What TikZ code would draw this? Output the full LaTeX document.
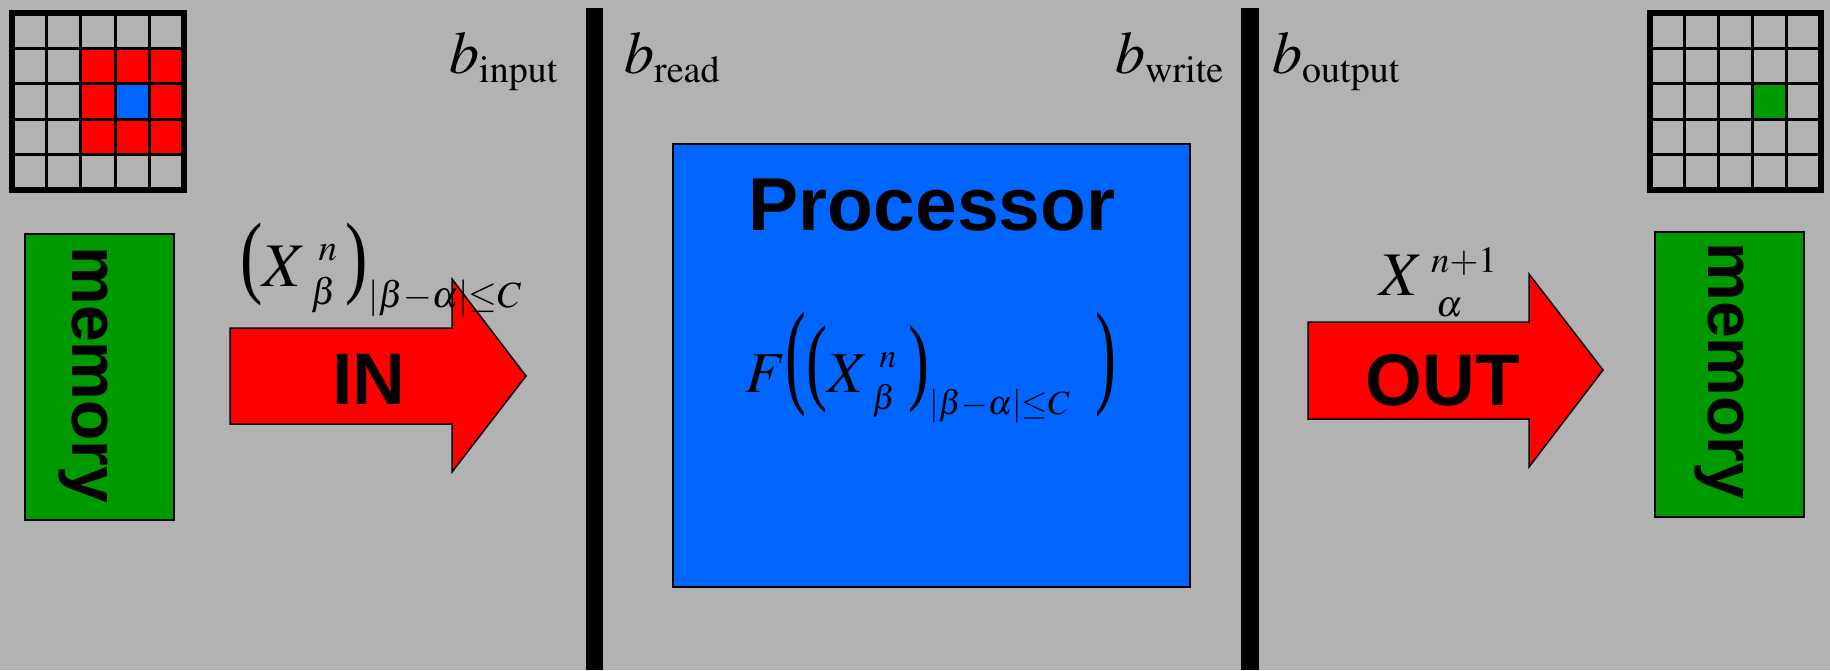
\documentclass[tikz,border=0pt]{standalone}
\usepackage{mathptmx}
\usepackage{fontspec}
\setmainfont{Liberation Serif}
\setsansfont{Liberation Sans}
\DeclareMathSizes{58}{58}{34}{26}
\DeclareMathSizes{60}{60}{38}{28}
\DeclareMathSizes{62}{62}{37}{28}
\newcommand{\upsc}[2]{\raisebox{#1}{$\scriptstyle #2$}}
\newcommand{\plft}[1]{\mathopen{\resizebox*{0.36em}{#1}{(}}}
\newcommand{\prgt}[1]{\mathclose{\resizebox*{0.36em}{#1}{)}}}
\definecolor{bggray}{RGB}{178,178,178}
\definecolor{procblue}{RGB}{0,102,255}
\definecolor{memgreen}{RGB}{0,153,0}
\tikzset{
  memorybox/.style={draw=black, line width=1.5pt, fill=memgreen},
  bigarrow/.style={draw=black, line width=1.5pt, fill=red},
  sftext/.style={inner sep=0pt, font=\sffamily\bfseries\fontsize{#1}{#1}\selectfont},
  mathtext/.style={inner sep=0pt, font=\fontsize{#1}{#1}\selectfont}
}
\begin{document}
\begin{tikzpicture}[x=1pt, y=-1pt]
  \useasboundingbox (0,0) rectangle (1830,670);
  \fill[bggray] (0,0) rectangle (1830,670);

  \begin{scope}[shift={(12,13)}, x=34.4pt, y=-35.4pt]
    \fill[red] (2,1) rectangle (5,4);
    \fill[procblue] (3,2) rectangle (4,3);
    \foreach \k in {1,...,4} {
      \draw[line width=3pt] (\k,0) -- (\k,5);
      \draw[line width=3pt] (0,\k) -- (5,\k);
    }
    \draw[line width=6pt] (0,0) rectangle (5,5);
  \end{scope}
  \begin{scope}[shift={(1650,13)}, x=34.2pt, y=-35.4pt]
    \fill[memgreen] (3,2) rectangle (4,3);
    \foreach \k in {1,...,4} {
      \draw[line width=3pt] (\k,0) -- (\k,5);
      \draw[line width=3pt] (0,\k) -- (5,\k);
    }
    \draw[line width=6pt] (0,0) rectangle (5,5);
  \end{scope}

  \fill[black] (586,8) rectangle (603,670);
  \fill[black] (1241,8) rectangle (1259,670);

  \draw[memorybox] (25,234) rectangle (174,520);
  \node[sftext=66, rotate=-90, anchor=base] (memin) at (72,375) {memory};
  \draw[memorybox] (1655,232) rectangle (1804,517);
  \node[sftext=66, rotate=-90, anchor=base] (memout) at (1708,371) {memory};

  \draw[line width=1.5pt, fill=procblue] (673,144) rectangle (1190,587);
  \node[sftext=75, anchor=base] (proc) at (932,230) {Processor};
  \node[mathtext=58, anchor=base] (func) at (931,392)
    {$F\plft{105pt}\plft{87pt}X^{\mkern6mu\upsc{3pt}{n}\mkern6mu}_{\mkern6mu\upsc{-3pt}{\beta}\mkern6mu}\prgt{87pt}_{|\beta-\alpha|\le C}\mkern8mu\prgt{105pt}$};

  \draw[bigarrow] (230,328) -- (452,328) -- (452,279) -- (526,376)
    -- (452,472) -- (452,424) -- (230,424) -- cycle;
  \node[sftext=73, anchor=base] (in) at (369,404) {IN};
  \node[mathtext=62, anchor=base west] (inval) at (240,286)
    {$\plft{83pt}X^{\mkern6mu\upsc{3pt}{n}\mkern4mu}_{\mkern6mu\upsc{-3pt}{\beta}\mkern4mu}\prgt{83pt}_{|\beta-\alpha|\le C}$};

  \draw[bigarrow] (1308,322) -- (1529,322) -- (1529,274) -- (1603,370)
    -- (1529,467) -- (1529,419) -- (1308,419) -- cycle;
  \node[sftext=73, anchor=base] (out) at (1443,405) {OUT};
  \node[mathtext=62, anchor=base west] (outval) at (1379,295)
    {$X^{\mkern4mu n+1}_{\mkern10mu\upsc{-6pt}{\alpha}}$};

  \node[mathtext=60, anchor=base west] (binput) at (449,73) {$b_{\mathrm{input}}$};
  \node[mathtext=60, anchor=base west] (bread) at (624,73) {$b_{\mathrm{read}}$};
  \node[mathtext=60, anchor=base west] (bwrite) at (1115,73) {$b_{\mathrm{write}}$};
  \node[mathtext=60, anchor=base west] (boutput) at (1272,73) {$b_{\mathrm{output}}$};
\end{tikzpicture}
\end{document}
